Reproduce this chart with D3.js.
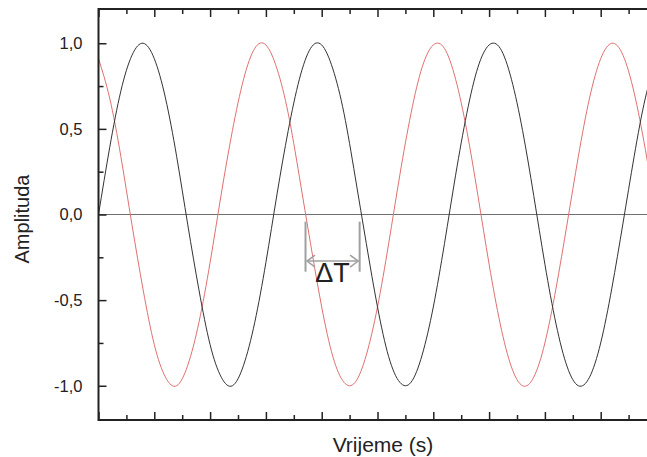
<!DOCTYPE html>
<html>
<head>
<meta charset="utf-8">
<script src="https://cdn.jsdelivr.net/npm/d3@7"></script>
<style>
  html, body { margin: 0; padding: 0; background: #fff; }
  svg { display: block; font-family: "Liberation Sans", Arial, sans-serif; }
</style>
</head>
<body>
<svg id="chart" width="647" height="457"></svg>
<script>
// Sample times (s)
const time = [0,0.2,0.4,0.6,0.8,1.0,1.2,1.4,1.6,1.8,2.0,2.2,2.4,2.6,2.8,3.0,3.2,3.4,3.6,3.8,
  4.0,4.2,4.4,4.6,4.8,5.0,5.2,5.4,5.6,5.8,6.0,6.2,6.4,6.6,6.8,7.0,7.2,7.4,7.6,7.8,
  8.0,8.2,8.4,8.6,8.8,9.0,9.2,9.4,9.6,9.8,10.0];

// Reference signal (black)
const signalA = [0,0.39,0.72,0.93,1.0,0.91,0.68,0.34,-0.06,-0.44,-0.76,-0.95,-1.0,-0.88,-0.63,-0.28,
  0.12,0.49,0.79,0.97,0.99,0.85,0.59,0.22,-0.17,-0.54,-0.83,-0.98,-0.98,-0.82,-0.54,-0.17,
  0.23,0.59,0.86,0.99,0.97,0.79,0.49,0.11,-0.29,-0.64,-0.89,-1.0,-0.95,-0.75,-0.43,-0.05,
  0.34,0.68,0.91];

// Shifted signal (red)
const signalB = [0.91,0.68,0.34,-0.06,-0.44,-0.76,-0.95,-1.0,-0.88,-0.63,-0.28,0.12,0.49,0.79,0.97,0.99,
  0.85,0.59,0.22,-0.17,-0.54,-0.83,-0.98,-0.98,-0.82,-0.54,-0.17,0.23,0.59,0.86,0.99,0.97,
  0.79,0.49,0.11,-0.29,-0.64,-0.89,-1.0,-0.95,-0.75,-0.43,-0.05,0.34,0.68,0.91,1.0,0.93,
  0.71,0.38,-0.01];

// Y tick values and their labels
const yTicks = [-1.0, -0.5, 0.0, 0.5, 1.0];
const yTickLabels = ["-1,0", "-0,5", "0,0", "0,5", "1,0"];
const yMinorTicks = [-0.75, -0.25, 0.25, 0.75];
const xMajorTicks = [0,1,2,3,4,5,6,7,8,9,10];
const xMinorTicks = [0.5,1.5,2.5,3.5,4.5,5.5,6.5,7.5,8.5,9.5];

// Time shift between the two zero crossings
const deltaT = [3.71, 4.68];

const svg = d3.select("#chart");
const W = 647, H = 457;
const plotLeft = 98.5, plotTop = 9, plotBottom = 420;

const x = d3.scaleLinear().domain([0, 10]).range([plotLeft, plotLeft + 558]);
const y = d3.scaleLinear().domain([-1.2, 1.2]).range([plotBottom, plotTop]);

svg.append("defs").append("clipPath").attr("id", "plot")
  .append("rect").attr("x", plotLeft).attr("y", plotTop)
  .attr("width", W - plotLeft).attr("height", plotBottom - plotTop);

const plot = svg.append("g").attr("clip-path", "url(#plot)");

// zero line
plot.append("line")
  .attr("x1", x(0)).attr("x2", W)
  .attr("y1", y(0)).attr("y2", y(0))
  .attr("stroke", "#707070").attr("stroke-width", 1);

const line = (vals) => d3.line()
  .x((d, i) => x(time[i]))
  .y(d => y(d))
  .curve(d3.curveNatural)(vals);

plot.append("path").attr("d", line(signalB))
  .attr("fill", "none").attr("stroke", "#e07070").attr("stroke-width", 1);
plot.append("path").attr("d", line(signalA))
  .attr("fill", "none").attr("stroke", "#333").attr("stroke-width", 1);

// ΔT annotation
const ann = svg.append("g").attr("stroke", "#a0a0a0");
deltaT.forEach(t => {
  ann.append("line")
    .attr("x1", x(t)).attr("x2", x(t))
    .attr("y1", y(-0.042)).attr("y2", y(-0.334))
    .attr("stroke-width", 2);
});
const ay = y(-0.272);
const xa = x(deltaT[0]) + 1.5, xb = x(deltaT[1]) - 1.5;
ann.append("line").attr("x1", xa).attr("x2", xb).attr("y1", ay).attr("y2", ay).attr("stroke-width", 1.5);
ann.append("path")
  .attr("d", `M${xa + 8},${ay - 6}L${xa},${ay}L${xa + 8},${ay + 6}M${xb - 8},${ay - 6}L${xb},${ay}L${xb - 8},${ay + 6}`)
  .attr("fill", "none").attr("stroke-width", 1.5);
svg.append("text")
  .attr("x", (x(deltaT[0]) + x(deltaT[1])) / 2).attr("y", 282)
  .attr("text-anchor", "middle")
  .attr("font-size", 27).attr("fill", "#222")
  .text("ΔT");

// Axes
const axisColor = "#222";
const axes = svg.append("g");

// bottom
axes.append("g").attr("transform", `translate(0,${plotBottom})`)
  .call(d3.axisBottom(x).tickValues(xMajorTicks).tickSize(-8).tickFormat(""));
axes.append("g").attr("transform", `translate(0,${plotBottom})`)
  .call(d3.axisBottom(x).tickValues(xMinorTicks).tickSize(-5).tickFormat(""));

// top
axes.append("g").attr("transform", `translate(0,${plotTop})`)
  .call(d3.axisTop(x).tickValues(xMajorTicks).tickSize(-8).tickFormat(""));
axes.append("g").attr("transform", `translate(0,${plotTop})`)
  .call(d3.axisTop(x).tickValues(xMinorTicks).tickSize(-5).tickFormat(""));

// left
axes.append("g").attr("transform", `translate(${plotLeft},0)`)
  .call(d3.axisLeft(y).tickValues(yTicks).tickSize(-8).tickPadding(16)
    .tickFormat((d, i) => yTickLabels[i]));
axes.append("g").attr("transform", `translate(${plotLeft},0)`)
  .call(d3.axisLeft(y).tickValues(yMinorTicks).tickSize(-5).tickFormat(""));

axes.selectAll(".domain").remove();
axes.selectAll(".tick line").attr("stroke", axisColor).attr("stroke-width", 1.5);
axes.selectAll(".tick text")
  .attr("font-size", 16.5).attr("fill", "#222")
  .attr("font-family", "'Liberation Sans', Arial, sans-serif");

// axis frame lines
axes.append("line").attr("x1", plotLeft).attr("x2", W).attr("y1", plotTop).attr("y2", plotTop)
  .attr("stroke", axisColor).attr("stroke-width", 2);
axes.append("line").attr("x1", plotLeft).attr("x2", W).attr("y1", plotBottom).attr("y2", plotBottom)
  .attr("stroke", axisColor).attr("stroke-width", 2);
axes.append("line").attr("x1", plotLeft).attr("x2", plotLeft).attr("y1", plotTop - 1).attr("y2", plotBottom + 1)
  .attr("stroke", axisColor).attr("stroke-width", 2);

// axis titles
svg.append("text")
  .attr("x", 383).attr("y", 452)
  .attr("text-anchor", "middle").attr("font-size", 21).attr("fill", "#222")
  .text("Vrijeme (s)");
svg.append("text")
  .attr("transform", `translate(29,219) rotate(-90)`)
  .attr("text-anchor", "middle").attr("font-size", 20).attr("fill", "#222")
  .text("Amplituda");
</script>
</body>
</html>
